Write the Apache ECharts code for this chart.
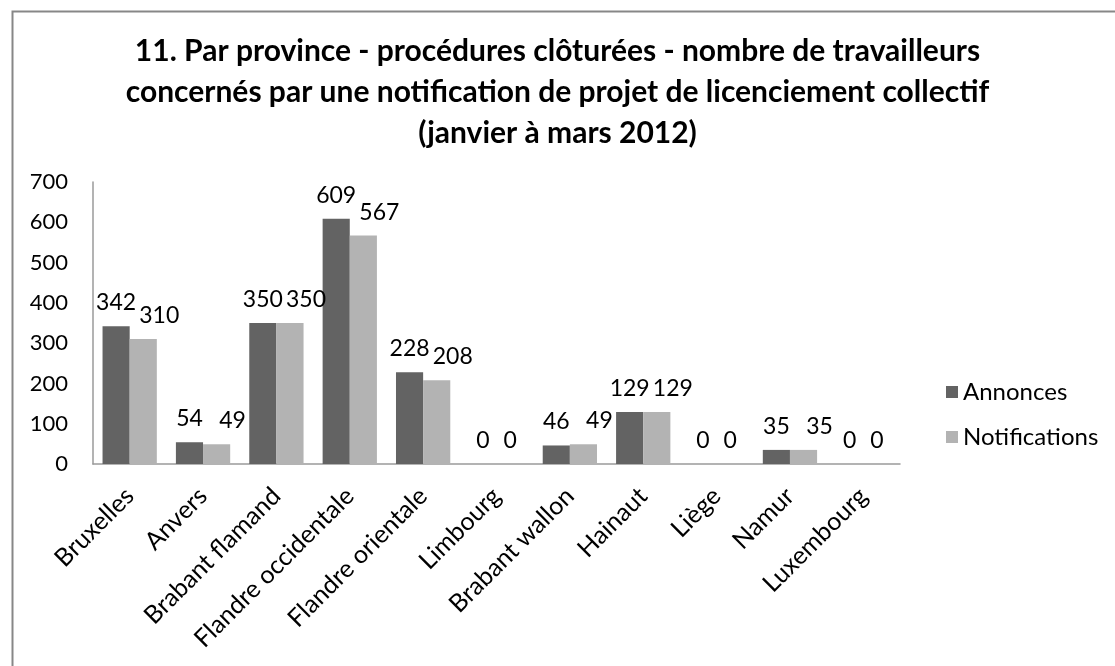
<!DOCTYPE html>
<html>
<head>
<meta charset="utf-8">
<script src="https://cdn.jsdelivr.net/npm/echarts@6/dist/echarts.min.js"></script>
<style>html,body{margin:0;padding:0;background:#fff}#c{width:1115px;height:666px}</style>
</head>
<body>
<div id="c"></div>
<script>
var categories = ['Bruxelles','Anvers','Brabant flamand','Flandre occidentale','Flandre orientale','Limbourg','Brabant wallon','Hainaut','Liège','Namur','Luxembourg'];
var annonces = [342, 54, 350, 609, 228, 0, 46, 129, 0, 35, 0];
var notifications = [310, 49, 350, 567, 208, 0, 49, 129, 0, 35, 0];
var titleText = '11. Par province - procédures clôturées - nombre de travailleurs\nconcernés par une notification de projet de licenciement collectif\n(janvier à mars 2012)';
var FONT = 'Lato';

// Like the source, labels of the second series are nudged right when both bars carry a non-zero label
var notifItems = notifications.map(function (v, i) {
  var nudge = (v !== 0 && annonces[i] !== 0) ? 16 : 0;
  return {value: v, label: {offset: [nudge, 0]}};
});

var chart = echarts.init(document.getElementById('c'), null, {renderer:'canvas'});
chart.setOption({
  animation: false,
  backgroundColor: '#fff',
  textStyle: {fontFamily: FONT},
  graphic: [{
    type: 'rect', left: 10, top: 9, shape: {width: 1300, height: 900},
    style: {fill: 'none', stroke: '#878787', lineWidth: 2}, silent: true
  }],
  title: {
    text: titleText, left: 'center', top: 26,
    textStyle: {fontFamily: FONT, fontWeight: 'bold', fontSize: 30, color: '#000', lineHeight: 41}
  },
  legend: {
    orient: 'vertical', left: 941, top: 375, itemWidth: 12, itemHeight: 12, itemGap: 21,
    icon: 'rect',
    textStyle: {fontFamily: FONT, fontSize: 24, color: '#000', lineHeight: 24}
  },
  grid: {left: 93, right: 215, top: 182, bottom: 202, containLabel: false},
  xAxis: {
    type: 'category', data: categories,
    axisLine: {lineStyle: {color: '#9a9a9a', width: 1.5}},
    axisTick: {show: false},
    axisLabel: {rotate: 45, interval: 0, fontFamily: FONT, fontSize: 25, color: '#000', margin: 28}
  },
  yAxis: {
    type: 'value', min: 0, max: 700, interval: 100,
    axisLine: {show: true, lineStyle: {color: '#9a9a9a', width: 1.5}},
    axisTick: {show: false},
    splitLine: {show: false},
    axisLabel: {fontFamily: FONT, fontSize: 22, color: '#000', margin: 25}
  },
  series: [{
    name: 'Annonces', type: 'bar', data: annonces,
    itemStyle: {color: '#636363'}, barGap: '0%', barCategoryGap: '26%',
    label: {show: true, position: 'top', distance: 12, fontFamily: FONT, fontSize: 23, color: '#000'}
  }, {
    name: 'Notifications', type: 'bar', data: notifItems,
    itemStyle: {color: '#b3b3b3'},
    label: {show: true, position: 'top', distance: 12, fontFamily: FONT, fontSize: 23, color: '#000'}
  }]
});
</script>
</body>
</html>
